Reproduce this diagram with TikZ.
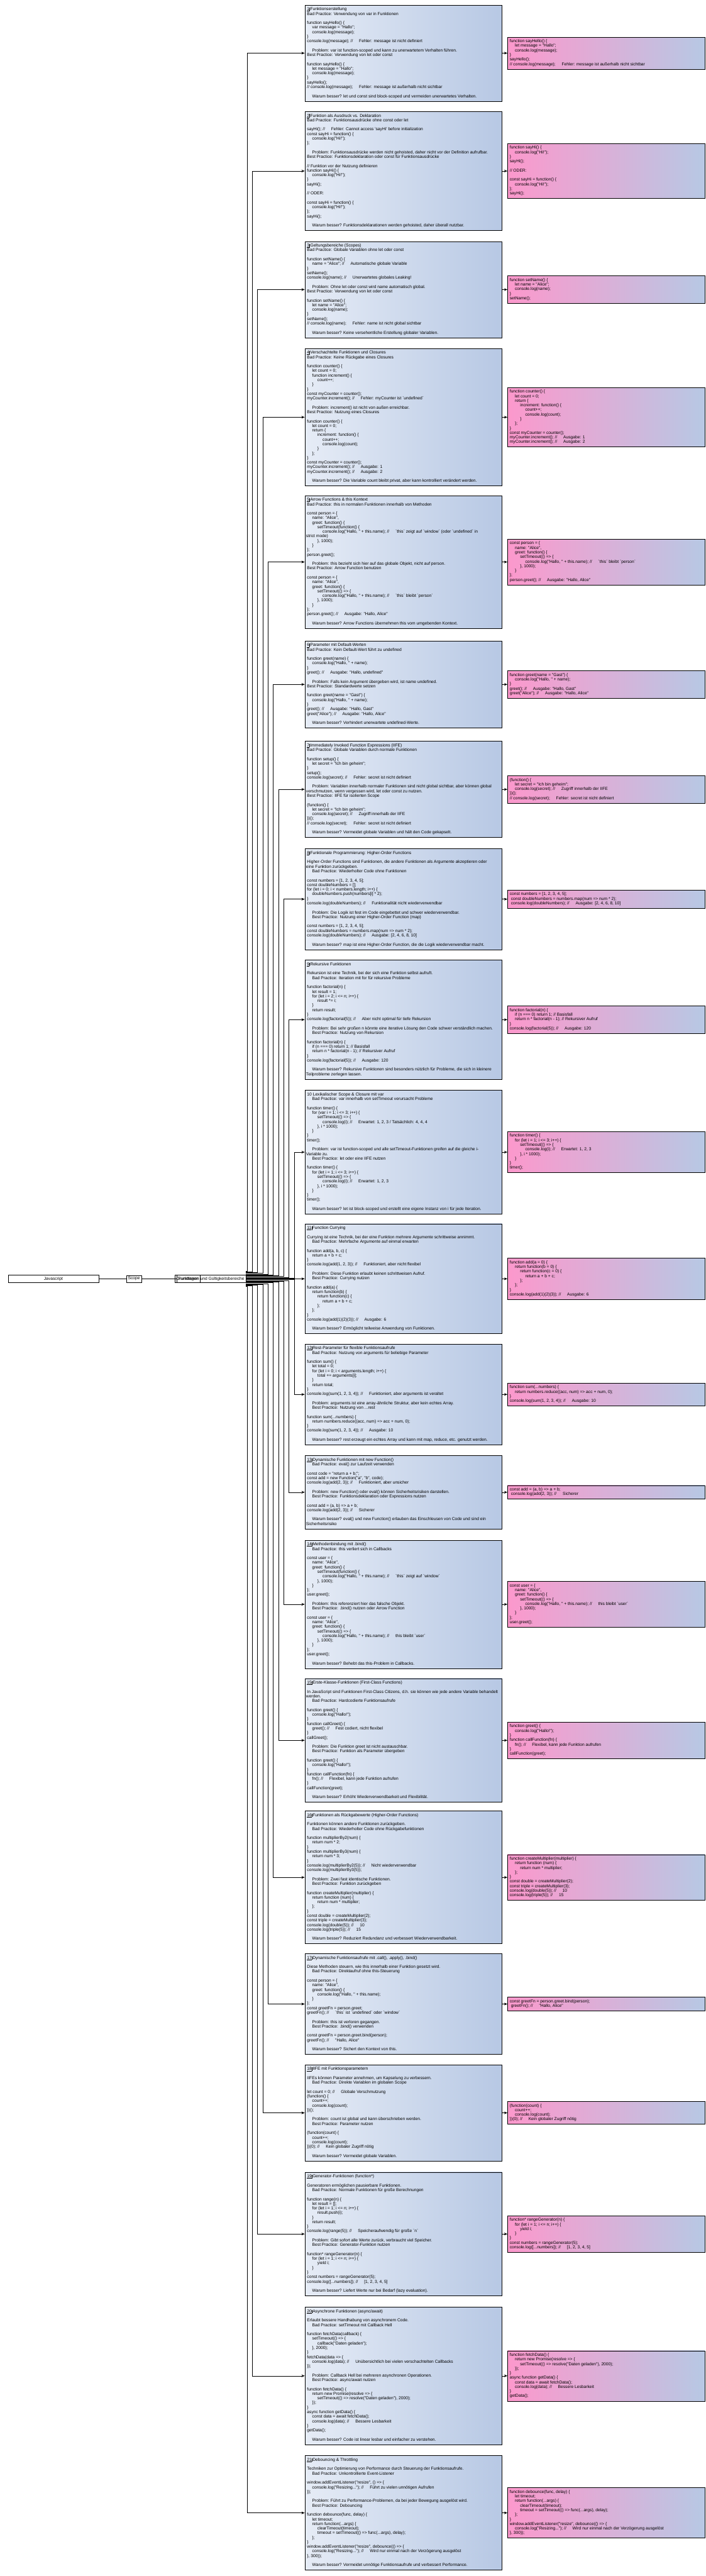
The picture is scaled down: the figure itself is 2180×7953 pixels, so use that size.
\documentclass[tikz,border=0pt]{standalone}
\usepackage{fontspec}
\newfontfamily\boxfont{Liberation Sans}
\usetikzlibrary{arrows.meta}

\definecolor{bluel}{HTML}{E6ECF6}
\definecolor{bluer}{HTML}{B7C8E4}
\definecolor{pinkl}{HTML}{FC98CC}

\newcommand{\codeln}[1]{\hbox{\strut#1}}
\newcommand{\blank}{\codeln{}}
\newcommand{\ind}{\hspace*{16pt}}
\newcommand{\emo}{\hspace*{19pt}}
\newcommand{\nr}[1]{\underline{#1}\kern0.5pt\rule[-2pt]{0.6pt}{11pt}\kern1.5pt}
\newcommand{\codetext}[1]{\vbox{\hrule height 0pt width 595pt\relax#1}}

\begin{document}
\begin{tikzpicture}[x=1pt,y=-1pt,
  codebox/.style={draw, line width=0.9pt, anchor=west, inner xsep=7pt, inner ysep=7pt,
    left color=bluel, right color=bluer, font=\boxfont\fontsize{13}{14.14}\selectfont},
  bestbox/.style={codebox, left color=pinkl, right color=bluer},
  topic/.style={draw, line width=0.9pt, inner sep=5pt, font=\boxfont\fontsize{13}{15}\selectfont},
  conn/.style={-{Stealth[length=10pt,width=8pt]}, line width=0.9pt}]
\useasboundingbox (0,0) rectangle (2180,7953);

% linke Kette
\node[topic, anchor=west, minimum width=279pt, align=left] (js) at (25,3948) {Javascript\hfill};
\node[topic, anchor=west] (scope) at (390,3948) {Scope};
\node[topic, anchor=west] (grund) at (540,3948) {Grundlagen};
\node[topic, anchor=east] (fkt) at (760,3948) {Funktionen und Gültigkeitsbereiche};
\draw[line width=0.9pt] (js) -- (scope);
\draw[line width=0.9pt] (scope) -- (grund);
\draw[line width=0.9pt] (grund) -- (fkt);

% 1
\node[codebox] (b1) at (941,164) {\codetext{
\codeln{\nr{1}Funktionserstellung}
\codeln{Bad Practice: Verwendung von var in Funktionen}
\blank
\codeln{function sayHello() \{}
\codeln{\ind var message = "Hallo";}
\codeln{\ind console.log(message);}
\codeln{\}}
\codeln{console.log(message); //\emo Fehler: message ist nicht definiert}
\blank
\codeln{\ind Problem: var ist function-scoped und kann zu unerwartetem Verhalten führen.}
\codeln{Best Practice: Verwendung von let oder const}
\blank
\codeln{function sayHello() \{}
\codeln{\ind let message = "Hallo";}
\codeln{\ind console.log(message);}
\codeln{\}}
\codeln{sayHello();}
\codeln{// console.log(message);\emo Fehler: message ist außerhalb nicht sichtbar}
\blank
\codeln{\ind Warum besser? let und const sind block-scoped und vermeiden unerwartetes Verhalten.}}};
\node[bestbox] (p1) at (1567,164) {\codetext{
\codeln{function sayHello() \{}
\codeln{\ind let message = "Hallo";}
\codeln{\ind console.log(message);}
\codeln{\}}
\codeln{sayHello();}
\codeln{// console.log(message);\emo Fehler: message ist außerhalb nicht sichtbar}}};

% 2
\node[codebox] (b2) at (941,528) {\codetext{
\codeln{\nr{2}Funktion als Ausdruck vs. Deklaration}
\codeln{Bad Practice: Funktionsausdrücke ohne const oder let}
\blank
\codeln{sayHi(); //\emo Fehler: Cannot access 'sayHi' before initialization}
\codeln{const sayHi = function() \{}
\codeln{\ind console.log("Hi!");}
\codeln{\};}
\blank
\codeln{\ind Problem: Funktionsausdrücke werden nicht gehoisted, daher nicht vor der Definition aufrufbar.}
\codeln{Best Practice: Funktionsdeklaration oder const für Funktionsausdrücke}
\blank
\codeln{// Funktion vor der Nutzung definieren}
\codeln{function sayHi() \{}
\codeln{\ind console.log("Hi!");}
\codeln{\}}
\codeln{sayHi();}
\blank
\codeln{// ODER:}
\blank
\codeln{const sayHi = function() \{}
\codeln{\ind console.log("Hi!");}
\codeln{\};}
\codeln{sayHi();}
\blank
\codeln{\ind Warum besser? Funktionsdeklarationen werden gehoisted, daher überall nutzbar.}}};
\node[bestbox] (p2) at (1567,528) {\codetext{
\codeln{function sayHi() \{}
\codeln{\ind console.log("Hi!");}
\codeln{\}}
\codeln{sayHi();}
\blank
\codeln{// ODER:}
\blank
\codeln{const sayHi = function() \{}
\codeln{\ind console.log("Hi!");}
\codeln{\};}
\codeln{sayHi();}}};

% 3
\node[codebox] (b3) at (941,894) {\codetext{
\codeln{\nr{3}Geltungsbereiche (Scopes)}
\codeln{Bad Practice: Globale Variablen ohne let oder const}
\blank
\codeln{function setName() \{}
\codeln{\ind name = "Alice"; //\emo Automatische globale Variable}
\codeln{\}}
\codeln{setName();}
\codeln{console.log(name); //\emo Unerwartetes globales Leaking!}
\blank
\codeln{\ind Problem: Ohne let oder const wird name automatisch global.}
\codeln{Best Practice: Verwendung von let oder const}
\blank
\codeln{function setName() \{}
\codeln{\ind let name = "Alice";}
\codeln{\ind console.log(name);}
\codeln{\}}
\codeln{setName();}
\codeln{// console.log(name);\emo Fehler: name ist nicht global sichtbar}
\blank
\codeln{\ind Warum besser? Keine versehentliche Erstellung globaler Variablen.}}};
\node[bestbox] (p3) at (1567,894) {\codetext{
\codeln{function setName() \{}
\codeln{\ind let name = "Alice";}
\codeln{\ind console.log(name);}
\codeln{\}}
\codeln{setName();}}};

% 4
\node[codebox] (b4) at (941,1288) {\codetext{
\codeln{\nr{4}Verschachtelte Funktionen und Closures}
\codeln{Bad Practice: Keine Rückgabe eines Closures}
\blank
\codeln{function counter() \{}
\codeln{\ind let count = 0;}
\codeln{\ind function increment() \{}
\codeln{\ind\ind count++;}
\codeln{\ind \}}
\codeln{\}}
\codeln{const myCounter = counter();}
\codeln{myCounter.increment(); //\emo Fehler: myCounter ist `undefined`}
\blank
\codeln{\ind Problem: increment() ist nicht von außen erreichbar.}
\codeln{Best Practice: Nutzung eines Closures}
\blank
\codeln{function counter() \{}
\codeln{\ind let count = 0;}
\codeln{\ind return \{}
\codeln{\ind\ind increment: function() \{}
\codeln{\ind\ind\ind count++;}
\codeln{\ind\ind\ind console.log(count);}
\codeln{\ind\ind \}}
\codeln{\ind \};}
\codeln{\}}
\codeln{const myCounter = counter();}
\codeln{myCounter.increment(); //\emo Ausgabe: 1}
\codeln{myCounter.increment(); //\emo Ausgabe: 2}
\blank
\codeln{\ind Warum besser? Die Variable count bleibt privat, aber kann kontrolliert verändert werden.}}};
\node[bestbox] (p4) at (1567,1288) {\codetext{
\codeln{function counter() \{}
\codeln{\ind let count = 0;}
\codeln{\ind return \{}
\codeln{\ind\ind increment: function() \{}
\codeln{\ind\ind\ind count++;}
\codeln{\ind\ind\ind console.log(count);}
\codeln{\ind\ind \}}
\codeln{\ind \};}
\codeln{\}}
\codeln{const myCounter = counter();}
\codeln{myCounter.increment(); //\emo Ausgabe: 1}
\codeln{myCounter.increment(); //\emo Ausgabe: 2}}};

% 5
\node[codebox] (b5) at (941,1735) {\codetext{
\codeln{\nr{5}Arrow Functions \& this Kontext}
\codeln{Bad Practice: this in normalen Funktionen innerhalb von Methoden}
\blank
\codeln{const person = \{}
\codeln{\ind name: "Alice",}
\codeln{\ind greet: function() \{}
\codeln{\ind\ind setTimeout(function() \{}
\codeln{\ind\ind\ind console.log("Hallo, " + this.name); //\emo `this` zeigt auf `window` (oder `undefined` in}
\codeln{\kern-3pt strict mode)}
\codeln{\ind\ind \}, 1000);}
\codeln{\ind \}}
\codeln{\};}
\codeln{person.greet();}
\blank
\codeln{\ind Problem: this bezieht sich hier auf das globale Objekt, nicht auf person.}
\codeln{Best Practice: Arrow Function benutzen}
\blank
\codeln{const person = \{}
\codeln{\ind name: "Alice",}
\codeln{\ind greet: function() \{}
\codeln{\ind\ind setTimeout(() => \{}
\codeln{\ind\ind\ind console.log("Hallo, " + this.name); //\emo `this` bleibt `person`}
\codeln{\ind\ind \}, 1000);}
\codeln{\ind \}}
\codeln{\};}
\codeln{person.greet(); //\emo Ausgabe: "Hallo, Alice"}
\blank
\codeln{\ind Warum besser? Arrow Functions übernehmen this vom umgebenden Kontext.}}};
\node[bestbox] (p5) at (1567,1735) {\codetext{
\codeln{const person = \{}
\codeln{\ind name: "Alice",}
\codeln{\ind greet: function() \{}
\codeln{\ind\ind setTimeout(() => \{}
\codeln{\ind\ind\ind console.log("Hallo, " + this.name); //\emo `this` bleibt `person`}
\codeln{\ind\ind \}, 1000);}
\codeln{\ind \}}
\codeln{\};}
\codeln{person.greet(); //\emo Ausgabe: "Hallo, Alice"}}};

% 6
\node[codebox] (b6) at (941,2113) {\codetext{
\codeln{\nr{6}Parameter mit Default-Werten}
\codeln{Bad Practice: Kein Default-Wert führt zu undefined}
\blank
\codeln{function greet(name) \{}
\codeln{\ind console.log("Hallo, " + name);}
\codeln{\}}
\codeln{greet(); //\emo Ausgabe: "Hallo, undefined"}
\blank
\codeln{\ind Problem: Falls kein Argument übergeben wird, ist name undefined.}
\codeln{Best Practice: Standardwerte setzen}
\blank
\codeln{function greet(name = "Gast") \{}
\codeln{\ind console.log("Hallo, " + name);}
\codeln{\}}
\codeln{greet(); //\emo Ausgabe: "Hallo, Gast"}
\codeln{greet("Alice"); //\emo Ausgabe: "Hallo, Alice"}
\blank
\codeln{\ind Warum besser? Verhindert unerwartete undefined-Werte.}}};
\node[bestbox] (p6) at (1567,2113) {\codetext{
\codeln{function greet(name = "Gast") \{}
\codeln{\ind console.log("Hallo, " + name);}
\codeln{\}}
\codeln{greet(); //\emo Ausgabe: "Hallo, Gast"}
\codeln{greet("Alice"); //\emo Ausgabe: "Hallo, Alice"}}};

% 7
\node[codebox] (b7) at (941,2437) {\codetext{
\codeln{\nr{7}Immediately Invoked Function Expressions (IIFE)}
\codeln{Bad Practice: Globale Variablen durch normale Funktionen}
\blank
\codeln{function setup() \{}
\codeln{\ind let secret = "Ich bin geheim";}
\codeln{\}}
\codeln{setup();}
\codeln{console.log(secret); //\emo Fehler: secret ist nicht definiert}
\blank
\codeln{\ind Problem: Variablen innerhalb normaler Funktionen sind nicht global sichtbar, aber können global}
\codeln{\kern-3pt verschmutzen, wenn vergessen wird, let oder const zu nutzen.}
\codeln{Best Practice: IIFE für isolierten Scope}
\blank
\codeln{(function() \{}
\codeln{\ind let secret = "Ich bin geheim";}
\codeln{\ind console.log(secret); //\emo Zugriff innerhalb der IIFE}
\codeln{\})();}
\codeln{// console.log(secret);\emo Fehler: secret ist nicht definiert}
\blank
\codeln{\ind Warum besser? Vermeidet globale Variablen und hält den Code gekapselt.}}};
\node[bestbox] (p7) at (1567,2437) {\codetext{
\codeln{(function() \{}
\codeln{\ind let secret = "Ich bin geheim";}
\codeln{\ind console.log(secret); //\emo Zugriff innerhalb der IIFE}
\codeln{\})();}
\codeln{// console.log(secret);\emo Fehler: secret ist nicht definiert}}};

% 8
\node[codebox] (b8) at (941,2776) {\codetext{
\codeln{\nr{8}Funktionale Programmierung: Higher-Order Functions}
\blank
\codeln{Higher-Order Functions sind Funktionen, die andere Funktionen als Argumente akzeptieren oder}
\codeln{\kern-3pt eine Funktion zurückgeben.}
\codeln{\ind Bad Practice: Wiederholter Code ohne Funktionen}
\blank
\codeln{const numbers = [1, 2, 3, 4, 5];}
\codeln{const doubleNumbers = [];}
\codeln{for (let i = 0; i < numbers.length; i++) \{}
\codeln{\ind doubleNumbers.push(numbers[i] * 2);}
\codeln{\}}
\codeln{console.log(doubleNumbers); //\emo Funktionalität nicht wiederverwendbar}
\blank
\codeln{\ind Problem: Die Logik ist fest im Code eingebettet und schwer wiederverwendbar.}
\codeln{\ind Best Practice: Nutzung einer Higher-Order Function (map)}
\blank
\codeln{const numbers = [1, 2, 3, 4, 5];}
\codeln{const doubleNumbers = numbers.map(num => num * 2);}
\codeln{console.log(doubleNumbers); //\emo Ausgabe: [2, 4, 6, 8, 10]}
\blank
\codeln{\ind Warum besser? map ist eine Higher-Order Function, die die Logik wiederverwendbar macht.}}};
\node[bestbox] (p8) at (1567,2776) {\codetext{
\codeln{const numbers = [1, 2, 3, 4, 5];}
\codeln{\ const doubleNumbers = numbers.map(num => num * 2);}
\codeln{\ console.log(doubleNumbers); //\emo Ausgabe: [2, 4, 6, 8, 10]}}};

% 9
\node[codebox] (b9) at (941,3148) {\codetext{
\codeln{\nr{9}Rekursive Funktionen}
\blank
\codeln{Rekursion ist eine Technik, bei der sich eine Funktion selbst aufruft.}
\codeln{\ind Bad Practice: Iteration mit for für rekursive Probleme}
\blank
\codeln{function factorial(n) \{}
\codeln{\ind let result = 1;}
\codeln{\ind for (let i = 2; i <= n; i++) \{}
\codeln{\ind\ind result *= i;}
\codeln{\ind \}}
\codeln{\ind return result;}
\codeln{\}}
\codeln{console.log(factorial(5)); //\emo Aber nicht optimal für tiefe Rekursion}
\blank
\codeln{\ind Problem: Bei sehr großen n könnte eine iterative Lösung den Code schwer verständlich machen.}
\codeln{\ind Best Practice: Nutzung von Rekursion}
\blank
\codeln{function factorial(n) \{}
\codeln{\ind if (n === 0) return 1; // Basisfall}
\codeln{\ind return n * factorial(n - 1); // Rekursiver Aufruf}
\codeln{\}}
\codeln{console.log(factorial(5)); //\emo Ausgabe: 120}
\blank
\codeln{\ind Warum besser? Rekursive Funktionen sind besonders nützlich für Probleme, die sich in kleinere}
\codeln{\kern-3pt Teilprobleme zerlegen lassen.}}};
\node[bestbox] (p9) at (1567,3148) {\codetext{
\codeln{function factorial(n) \{}
\codeln{\ind if (n === 0) return 1; // Basisfall}
\codeln{\ind return n * factorial(n - 1); // Rekursiver Aufruf}
\codeln{\}}
\codeln{console.log(factorial(5)); //\emo Ausgabe: 120}}};

% 10
\node[codebox] (b10) at (941,3557) {\codetext{
\codeln{10 Lexikalischer Scope \& Closure mit var}
\codeln{\ind Bad Practice: var innerhalb von setTimeout verursacht Probleme}
\blank
\codeln{function timer() \{}
\codeln{\ind for (var i = 1; i <= 3; i++) \{}
\codeln{\ind\ind setTimeout(() => \{}
\codeln{\ind\ind\ind console.log(i); //\emo Erwartet: 1, 2, 3 / Tatsächlich: 4, 4, 4}
\codeln{\ind\ind \}, i * 1000);}
\codeln{\ind \}}
\codeln{\}}
\codeln{timer();}
\blank
\codeln{\ind Problem: var ist function-scoped und alle setTimeout-Funktionen greifen auf die gleiche i-}
\codeln{\kern-3pt Variable zu.}
\codeln{\ind Best Practice: let oder eine IIFE nutzen}
\blank
\codeln{function timer() \{}
\codeln{\ind for (let i = 1; i <= 3; i++) \{}
\codeln{\ind\ind setTimeout(() => \{}
\codeln{\ind\ind\ind console.log(i); //\emo Erwartet: 1, 2, 3}
\codeln{\ind\ind \}, i * 1000);}
\codeln{\ind \}}
\codeln{\}}
\codeln{timer();}
\blank
\codeln{\ind Warum besser? let ist block-scoped und erstellt eine eigene Instanz von i für jede Iteration.}}};
\node[bestbox] (p10) at (1567,3557) {\codetext{
\codeln{function timer() \{}
\codeln{\ind for (let i = 1; i <= 3; i++) \{}
\codeln{\ind\ind setTimeout(() => \{}
\codeln{\ind\ind\ind console.log(i); //\emo Erwartet: 1, 2, 3}
\codeln{\ind\ind \}, i * 1000);}
\codeln{\ind \}}
\codeln{\}}
\codeln{timer();}}};

% 11
\node[codebox] (b11) at (941,3948) {\codetext{
\codeln{\nr{11}Function Currying}
\blank
\codeln{Currying ist eine Technik, bei der eine Funktion mehrere Argumente schrittweise annimmt.}
\codeln{\ind Bad Practice: Mehrfache Argumente auf einmal erwarten}
\blank
\codeln{function add(a, b, c) \{}
\codeln{\ind return a + b + c;}
\codeln{\}}
\codeln{console.log(add(1, 2, 3)); //\emo Funktioniert, aber nicht flexibel}
\blank
\codeln{\ind Problem: Diese Funktion erlaubt keinen schrittweisen Aufruf.}
\codeln{\ind Best Practice: Currying nutzen}
\blank
\codeln{function add(a) \{}
\codeln{\ind return function(b) \{}
\codeln{\ind\ind return function(c) \{}
\codeln{\ind\ind\ind return a + b + c;}
\codeln{\ind\ind \};}
\codeln{\ind \};}
\codeln{\}}
\codeln{console.log(add(1)(2)(3)); //\emo Ausgabe: 6}
\blank
\codeln{\ind Warum besser? Ermöglicht teilweise Anwendung von Funktionen.}}};
\node[bestbox] (p11) at (1567,3948) {\codetext{
\codeln{function add(a = 0) \{}
\codeln{\ind return function(b = 0) \{}
\codeln{\ind\ind return function(c = 0) \{}
\codeln{\ind\ind\ind return a + b + c;}
\codeln{\ind\ind \};}
\codeln{\ind \};}
\codeln{\}}
\codeln{console.log(add(1)(2)(3)); //\emo Ausgabe: 6}}};

% 12
\node[codebox] (b12) at (941,4305) {\codetext{
\codeln{\nr{12}Rest-Parameter für flexible Funktionsaufrufe}
\codeln{\ind Bad Practice: Nutzung von arguments für beliebige Parameter}
\blank
\codeln{function sum() \{}
\codeln{\ind let total = 0;}
\codeln{\ind for (let i = 0; i < arguments.length; i++) \{}
\codeln{\ind\ind total += arguments[i];}
\codeln{\ind \}}
\codeln{\ind return total;}
\codeln{\}}
\codeln{console.log(sum(1, 2, 3, 4)); //\emo Funktioniert, aber arguments ist veraltet}
\blank
\codeln{\ind Problem: arguments ist eine array-ähnliche Struktur, aber kein echtes Array.}
\codeln{\ind Best Practice: Nutzung von ...rest}
\blank
\codeln{function sum(...numbers) \{}
\codeln{\ind return numbers.reduce((acc, num) => acc + num, 0);}
\codeln{\}}
\codeln{console.log(sum(1, 2, 3, 4)); //\emo Ausgabe: 10}
\blank
\codeln{\ind Warum besser? rest erzeugt ein echtes Array und kann mit map, reduce, etc. genutzt werden.}}};
\node[bestbox] (p12) at (1567,4305) {\codetext{
\codeln{function sum(...numbers) \{}
\codeln{\ind return numbers.reduce((acc, num) => acc + num, 0);}
\codeln{\}}
\codeln{console.log(sum(1, 2, 3, 4)); //\emo Ausgabe: 10}}};

% 13
\node[codebox] (b13) at (941,4607) {\codetext{
\codeln{\nr{13}Dynamische Funktionen mit new Function()}
\codeln{\ind Bad Practice: eval() zur Laufzeit verwenden}
\blank
\codeln{const code = "return a + b;";}
\codeln{const add = new Function("a", "b", code);}
\codeln{console.log(add(2, 3)); //\emo Funktioniert, aber unsicher}
\blank
\codeln{\ind Problem: new Function() oder eval() können Sicherheitsrisiken darstellen.}
\codeln{\ind Best Practice: Funktionsdeklaration oder Expressions nutzen}
\blank
\codeln{const add = (a, b) => a + b;}
\codeln{console.log(add(2, 3)); //\emo Sicherer}
\blank
\codeln{\ind Warum besser? eval() und new Function() erlauben das Einschleusen von Code und sind ein}
\codeln{\kern-3pt Sicherheitsrisiko}}};
\node[bestbox] (p13) at (1567,4607) {\codetext{
\codeln{const add = (a, b) => a + b;}
\codeln{\ console.log(add(2, 3)); //\emo Sicherer}}};

% 14
\node[codebox] (b14) at (941,4953) {\codetext{
\codeln{\nr{14}Methodenbindung mit .bind()}
\codeln{\ind Bad Practice: this verliert sich in Callbacks}
\blank
\codeln{const user = \{}
\codeln{\ind name: "Alice",}
\codeln{\ind greet: function() \{}
\codeln{\ind\ind setTimeout(function() \{}
\codeln{\ind\ind\ind console.log("Hallo, " + this.name); //\emo `this` zeigt auf `window`}
\codeln{\ind\ind \}, 1000);}
\codeln{\ind \}}
\codeln{\};}
\codeln{user.greet();}
\blank
\codeln{\ind Problem: this referenziert hier das falsche Objekt.}
\codeln{\ind Best Practice: .bind() nutzen oder Arrow Function}
\blank
\codeln{const user = \{}
\codeln{\ind name: "Alice",}
\codeln{\ind greet: function() \{}
\codeln{\ind\ind setTimeout(() => \{}
\codeln{\ind\ind\ind console.log("Hallo, " + this.name); //\emo this bleibt `user`}
\codeln{\ind\ind \}, 1000);}
\codeln{\ind \}}
\codeln{\};}
\codeln{user.greet();}
\blank
\codeln{\ind Warum besser? Behebt das this-Problem in Callbacks.}}};
\node[bestbox] (p14) at (1567,4953) {\codetext{
\codeln{const user = \{}
\codeln{\ind name: "Alice",}
\codeln{\ind greet: function() \{}
\codeln{\ind\ind setTimeout(() => \{}
\codeln{\ind\ind\ind console.log("Hallo, " + this.name); //\emo this bleibt `user`}
\codeln{\ind\ind \}, 1000);}
\codeln{\ind \}}
\codeln{\};}
\codeln{user.greet();}}};

% 15
\node[codebox] (b15) at (941,5373) {\codetext{
\codeln{\nr{15}Erste-Klasse-Funktionen (First-Class Functions)}
\blank
\codeln{In JavaScript sind Funktionen First-Class Citizens, d.h. sie können wie jede andere Variable behandelt}
\codeln{\kern-3pt werden.}
\codeln{\ind Bad Practice: Hardcodierte Funktionsaufrufe}
\blank
\codeln{function greet() \{}
\codeln{\ind console.log("Hallo!");}
\codeln{\}}
\codeln{function callGreet() \{}
\codeln{\ind greet(); //\emo Fest codiert, nicht flexibel}
\codeln{\}}
\codeln{callGreet();}
\blank
\codeln{\ind Problem: Die Funktion greet ist nicht austauschbar.}
\codeln{\ind Best Practice: Funktion als Parameter übergeben}
\blank
\codeln{function greet() \{}
\codeln{\ind console.log("Hallo!");}
\codeln{\}}
\codeln{function callFunction(fn) \{}
\codeln{\ind fn(); //\emo Flexibel, kann jede Funktion aufrufen}
\codeln{\}}
\codeln{callFunction(greet);}
\blank
\codeln{\ind Warum besser? Erhöht Wiederverwendbarkeit und Flexibilität.}}};
\node[bestbox] (p15) at (1567,5373) {\codetext{
\codeln{function greet() \{}
\codeln{\ind console.log("Hallo!");}
\codeln{\}}
\codeln{function callFunction(fn) \{}
\codeln{\ind fn(); //\emo Flexibel, kann jede Funktion aufrufen}
\codeln{\}}
\codeln{callFunction(greet);}}};

% 16
\node[codebox] (b16) at (941,5796) {\codetext{
\codeln{\nr{16}Funktionen als Rückgabewerte (Higher-Order Functions)}
\blank
\codeln{Funktionen können andere Funktionen zurückgeben.}
\codeln{\ind Bad Practice: Wiederholter Code ohne Rückgabefunktionen}
\blank
\codeln{function multiplierBy2(num) \{}
\codeln{\ind return num * 2;}
\codeln{\}}
\codeln{function multiplierBy3(num) \{}
\codeln{\ind return num * 3;}
\codeln{\}}
\codeln{console.log(multiplierBy2(5)); //\emo Nicht wiederverwendbar}
\codeln{console.log(multiplierBy3(5));}
\blank
\codeln{\ind Problem: Zwei fast identische Funktionen.}
\codeln{\ind Best Practice: Funktion zurückgeben}
\blank
\codeln{function createMultiplier(multiplier) \{}
\codeln{\ind return function (num) \{}
\codeln{\ind\ind return num * multiplier;}
\codeln{\ind \};}
\codeln{\}}
\codeln{const double = createMultiplier(2);}
\codeln{const triple = createMultiplier(3);}
\codeln{console.log(double(5)); //\emo 10}
\codeln{console.log(triple(5)); //\emo 15}
\blank
\codeln{\ind Warum besser? Reduziert Redundanz und verbessert Wiederverwendbarkeit.}}};
\node[bestbox] (p16) at (1567,5796) {\codetext{
\codeln{function createMultiplier(multiplier) \{}
\codeln{\ind return function (num) \{}
\codeln{\ind\ind return num * multiplier;}
\codeln{\ind \};}
\codeln{\}}
\codeln{const double = createMultiplier(2);}
\codeln{const triple = createMultiplier(3);}
\codeln{console.log(double(5)); //\emo 10}
\codeln{console.log(triple(5)); //\emo 15}}};

% 17
\node[codebox] (b17) at (941,6187) {\codetext{
\codeln{\nr{17}Dynamische Funktionsaufrufe mit .call(), .apply(), .bind()}
\blank
\codeln{Diese Methoden steuern, wie this innerhalb einer Funktion gesetzt wird.}
\codeln{\ind Bad Practice: Direktaufruf ohne this-Steuerung}
\blank
\codeln{const person = \{}
\codeln{\ind name: "Alice",}
\codeln{\ind greet: function() \{}
\codeln{\ind\ind console.log("Hallo, " + this.name);}
\codeln{\ind \}}
\codeln{\};}
\codeln{const greetFn = person.greet;}
\codeln{greetFn(); //\emo `this` ist `undefined` oder `window`}
\blank
\codeln{\ind Problem: this ist verloren gegangen.}
\codeln{\ind Best Practice: .bind() verwenden}
\blank
\codeln{const greetFn = person.greet.bind(person);}
\codeln{greetFn(); //\emo "Hallo, Alice"}
\blank
\codeln{\ind Warum besser? Sichert den Kontext von this.}}};
\node[bestbox] (p17) at (1567,6187) {\codetext{
\codeln{const greetFn = person.greet.bind(person);}
\codeln{\ greetFn(); //\emo "Hallo, Alice"}}};

% 18
\node[codebox] (b18) at (941,6523) {\codetext{
\codeln{\nr{18}IIFE mit Funktionsparametern}
\blank
\codeln{IIFEs können Parameter annehmen, um Kapselung zu verbessern.}
\codeln{\ind Bad Practice: Direkte Variablen im globalen Scope}
\blank
\codeln{let count = 0; //\emo Globale Verschmutzung}
\codeln{(function() \{}
\codeln{\ind count++;}
\codeln{\ind console.log(count);}
\codeln{\})();}
\blank
\codeln{\ind Problem: count ist global und kann überschrieben werden.}
\codeln{\ind Best Practice: Parameter nutzen}
\blank
\codeln{(function(count) \{}
\codeln{\ind count++;}
\codeln{\ind console.log(count);}
\codeln{\})(0); //\emo Kein globaler Zugriff nötig}
\blank
\codeln{\ind Warum besser? Vermeidet globale Variablen.}}};
\node[bestbox] (p18) at (1567,6523) {\codetext{
\codeln{(function(count) \{}
\codeln{\ind count++;}
\codeln{\ind console.log(count);}
\codeln{\})(0); //\emo Kein globaler Zugriff nötig}}};

% 19
\node[codebox] (b19) at (941,6897) {\codetext{
\codeln{\nr{19}Generator-Funktionen (function*)}
\blank
\codeln{Generatoren ermöglichen pausierbare Funktionen.}
\codeln{\ind Bad Practice: Normale Funktionen für große Berechnungen}
\blank
\codeln{function range(n) \{}
\codeln{\ind let result = [];}
\codeln{\ind for (let i = 1; i <= n; i++) \{}
\codeln{\ind\ind result.push(i);}
\codeln{\ind \}}
\codeln{\ind return result;}
\codeln{\}}
\codeln{console.log(range(5)); //\emo Speicheraufwendig für große `n`}
\blank
\codeln{\ind Problem: Gibt sofort alle Werte zurück, verbraucht viel Speicher.}
\codeln{\ind Best Practice: Generator-Funktion nutzen}
\blank
\codeln{function* rangeGenerator(n) \{}
\codeln{\ind for (let i = 1; i <= n; i++) \{}
\codeln{\ind\ind yield i;}
\codeln{\ind \}}
\codeln{\}}
\codeln{const numbers = rangeGenerator(5);}
\codeln{console.log([...numbers]); //\emo [1, 2, 3, 4, 5]}
\blank
\codeln{\ind Warum besser? Liefert Werte nur bei Bedarf (lazy evaluation).}}};
\node[bestbox] (p19) at (1567,6897) {\codetext{
\codeln{function* rangeGenerator(n) \{}
\codeln{\ind for (let i = 1; i <= n; i++) \{}
\codeln{\ind\ind yield i;}
\codeln{\ind \}}
\codeln{\}}
\codeln{const numbers = rangeGenerator(5);}
\codeln{console.log([...numbers]); //\emo [1, 2, 3, 4, 5]}}};

% 20
\node[codebox] (b20) at (941,7335) {\codetext{
\codeln{\nr{20}Asynchrone Funktionen (async/await)}
\blank
\codeln{Erlaubt bessere Handhabung von asynchronem Code.}
\codeln{\ind Bad Practice: setTimeout mit Callback Hell}
\blank
\codeln{function fetchData(callback) \{}
\codeln{\ind setTimeout(() => \{}
\codeln{\ind\ind callback("Daten geladen");}
\codeln{\ind \}, 2000);}
\codeln{\}}
\codeln{fetchData(data => \{}
\codeln{\ind console.log(data); //\emo Unübersichtlich bei vielen verschachtelten Callbacks}
\codeln{\});}
\blank
\codeln{\ind Problem: Callback Hell bei mehreren asynchronen Operationen.}
\codeln{\ind Best Practice: async/await nutzen}
\blank
\codeln{function fetchData() \{}
\codeln{\ind return new Promise(resolve => \{}
\codeln{\ind\ind setTimeout(() => resolve("Daten geladen"), 2000);}
\codeln{\ind \});}
\codeln{\}}
\codeln{async function getData() \{}
\codeln{\ind const data = await fetchData();}
\codeln{\ind console.log(data); //\emo Bessere Lesbarkeit}
\codeln{\}}
\codeln{getData();}
\blank
\codeln{\ind Warum besser? Code ist linear lesbar und einfacher zu verstehen.}}};
\node[bestbox] (p20) at (1567,7335) {\codetext{
\codeln{function fetchData() \{}
\codeln{\ind return new Promise(resolve => \{}
\codeln{\ind\ind setTimeout(() => resolve("Daten geladen"), 2000);}
\codeln{\ind \});}
\codeln{\}}
\codeln{async function getData() \{}
\codeln{\ind const data = await fetchData();}
\codeln{\ind console.log(data); //\emo Bessere Lesbarkeit}
\codeln{\}}
\codeln{getData();}}};

% 21
\node[codebox] (b21) at (941,7758) {\codetext{
\codeln{\nr{21}Debouncing \& Throttling}
\blank
\codeln{Techniken zur Optimierung von Performance durch Steuerung der Funktionsaufrufe.}
\codeln{\ind Bad Practice: Unkontrollierte Event-Listener}
\blank
\codeln{window.addEventListener("resize", () => \{}
\codeln{\ind console.log("Resizing..."); //\emo Führt zu vielen unnötigen Aufrufen}
\codeln{\});}
\blank
\codeln{\ind Problem: Führt zu Performance-Problemen, da bei jeder Bewegung ausgelöst wird.}
\codeln{\ind Best Practice: Debouncing}
\blank
\codeln{function debounce(func, delay) \{}
\codeln{\ind let timeout;}
\codeln{\ind return function(...args) \{}
\codeln{\ind\ind clearTimeout(timeout);}
\codeln{\ind\ind timeout = setTimeout(() => func(...args), delay);}
\codeln{\ind \};}
\codeln{\}}
\codeln{window.addEventListener("resize", debounce(() => \{}
\codeln{\ind console.log("Resizing..."); //\emo Wird nur einmal nach der Verzögerung ausgelöst}
\codeln{\}, 300));}
\blank
\codeln{\ind Warum besser? Vermeidet unnötige Funktionsaufrufe und verbessert Performance.}}};
\node[bestbox] (p21) at (1567,7758) {\codetext{
\codeln{function debounce(func, delay) \{}
\codeln{\ind let timeout;}
\codeln{\ind return function(...args) \{}
\codeln{\ind\ind clearTimeout(timeout);}
\codeln{\ind\ind timeout = setTimeout(() => func(...args), delay);}
\codeln{\ind \};}
\codeln{\}}
\codeln{window.addEventListener("resize", debounce(() => \{}
\codeln{\ind console.log("Resizing..."); //\emo Wird nur einmal nach der Verzögerung ausgelöst}
\codeln{\}, 300));}}};

% Verbindungen
\foreach \k in {1,...,21} {
  \pgfmathsetmacro{\dy}{(11-\k)*2.4}
  \pgfmathsetmacro{\len}{165-abs(\k-11)*16.2}
  \draw[conn] ([yshift=\dy pt]fkt.east) -- ++(\len,0) |- (b\k.west);
  \draw[conn] (b\k.east) -- (p\k.west);
}
\end{tikzpicture}
\end{document}
